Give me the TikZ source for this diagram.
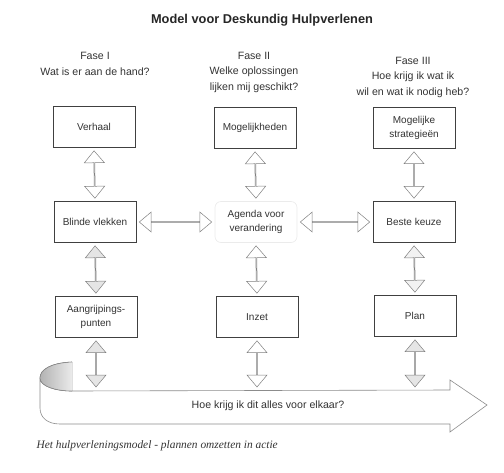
\documentclass[tikz,border=0pt]{standalone}
\usepackage{fontspec}
\setmainfont{Liberation Sans}
\newfontfamily\bijschrift{Liberation Serif}
\usetikzlibrary{shapes.arrows,calc}

\begin{document}
\begin{tikzpicture}[x=1pt, y=-1pt, font=\fontsize{10}{14}\selectfont, text=black!80]
    % Stijlen voor de knopen
    \tikzstyle{kader}=[rectangle, draw=black!75, fill=white, minimum width=82pt, minimum height=41pt, align=center, line width=0.6pt]
    \tikzstyle{fase}=[align=center, font=\fontsize{10.6}{15.5}\selectfont]
    \tikzstyle{dubbelpijl}=[double arrow, draw=black!50, line width=0.5pt, inner sep=0pt, minimum width=20pt, double arrow head extend=5pt, double arrow tip angle=80]
    \tikzstyle{lint}=[draw=black!45, line width=0.6pt, fill=white]
    \useasboundingbox (0,0) rectangle (504,472);

    % Titel
    \node[font=\bfseries\fontsize{12.8}{15}\selectfont, text=black!85] (titel) at (262,20) {Model voor Deskundig Hulpverlenen};

    % Fasen
    \node[fase] (fase1) at (95,64) {Fase I\\Wat is er aan de hand?};
    \node[fase] (fase2) at (254,72) {Fase II\\Welke oplossingen\\lijken mij geschikt?};
    \node[fase] (fase3) at (413,77) {Fase III\\Hoe krijg ik wat ik\\wil en wat ik nodig heb?};

    % Bovenste rij
    \node[kader] (verhaal) at (94,127) {Verhaal};
    \node[kader] (mogelijk) at (255,128) {Mogelijkheden};
    \node[kader] (strateg) at (414,128) {Mogelijke\\strategie\"en};

    % Middelste rij
    \node[kader] (blinde) at (95,222) {Blinde vlekken};
    \node[kader, draw=black!8, rounded corners=6pt] (agenda) at (256,222) {Agenda voor\\verandering};
    \node[kader] (beste) at (414,222) {Beste keuze};

    % Onderste rij
    \node[kader] (aangrijp) at (96,317) {Aangrijpings-\\punten};
    \node[kader] (inzet) at (257,317) {Inzet};
    \node[kader] (plan) at (415,316) {Plan};

    % Lint met grote pijl
    \draw[lint] (72,362) .. controls (50,363) and (40,370) .. (40,378) -- (40,408) .. controls (40,418) and (48,424) .. (60,424) -- (450,424) -- (450,432) -- (487,405) -- (450,380) -- (450,390) -- (72,391) .. controls (55,391) and (40,386) .. (40,378);
    \fill[left color=black!30, right color=black!8] (72,362) .. controls (50,363) and (40,370) .. (40,378) .. controls (40,386) and (55,391) .. (72,391) -- cycle;
    \draw[draw=black!45, line width=0.6pt] (72,362) .. controls (50,363) and (40,370) .. (40,378) .. controls (40,386) and (55,391) .. (72,391);
    \node[font=\fontsize{10.6}{13}\selectfont] (vraag) at (268,406) {Hoe krijg ik dit alles voor elkaar?};
    \coordinate (lint1) at (96,390);
    \coordinate (lint2) at (257,390);
    \coordinate (lint3) at (415,390);

    % Dubbele pijlen
    \foreach \a/\b/\kleur [count=\i] in {verhaal.south/blinde.north/white, mogelijk.south/agenda.north/white, strateg.south/beste.north/white,
        blinde.south/aangrijp.north/black!10, agenda.south/inzet.north/white, beste.south/plan.north/black!5,
        aangrijp.south/lint1/black!10, inzet.south/lint2/white, plan.south/lint3/black!10,
        blinde.east/agenda.west/white, agenda.east/beste.west/white}
        \path let \p1=(\a), \p2=(\b), \n1={veclen(\x2-\x1,\y2-\y1)}, \n2={atan2(\y2-\y1,\x2-\x1)} in
            node[dubbelpijl, fill=\kleur, minimum height=\n1-6, rotate=\n2] (pijl\i) at ($(\a)!0.5!(\b)$) {};

    % Bijschrift
    \node[anchor=west, font=\bijschrift\itshape\fontsize{11.4}{13}\selectfont] (onderschrift) at (33,446) {Het hulpverleningsmodel - plannen omzetten in actie};
\end{tikzpicture}
\end{document}
